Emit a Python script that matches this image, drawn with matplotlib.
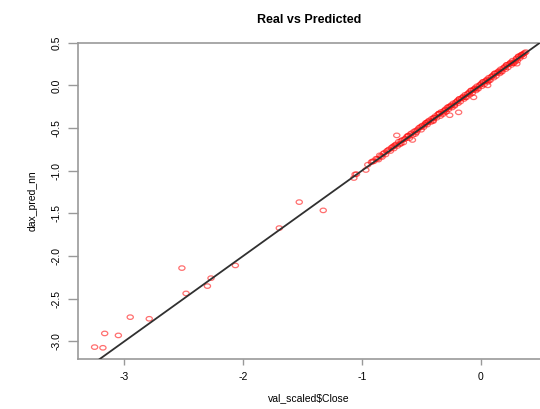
import numpy as np
import matplotlib.pyplot as plt
from matplotlib.path import Path
from matplotlib.transforms import Affine2D

plt.rcParams['font.family'] = ['Liberation Sans', 'DejaVu Sans']

# outliers at the low end
real_low = [-3.25, -3.18, -3.165, -3.05, -2.95, -2.79, -2.515, -2.48, -2.30, -2.27, -2.065,
            -1.695, -1.527, -1.325, -1.057, -1.067, -0.966]
pred_low = [-3.067, -3.075, -2.907, -2.93, -2.716, -2.735, -2.141, -2.438, -2.352, -2.259, -2.11,
            -1.672, -1.368, -1.465, -1.043, -1.086, -0.992]

# dense cluster along the diagonal
real_main = [-0.95, -0.92, -0.90, -0.88, -0.86, -0.85, -0.83, -0.81, -0.80, -0.78,
             -0.76, -0.75, -0.73, -0.72, -0.70, -0.69, -0.68, -0.66, -0.65, -0.63,
             -0.62, -0.60, -0.59, -0.57, -0.56, -0.55, -0.53, -0.52, -0.50, -0.49,
             -0.48, -0.46, -0.45, -0.44, -0.42, -0.41, -0.40, -0.38, -0.37, -0.36,
             -0.34, -0.33, -0.32, -0.30, -0.29, -0.28, -0.27, -0.25, -0.24, -0.23,
             -0.22, -0.20, -0.19, -0.18, -0.17, -0.15, -0.14, -0.13, -0.12, -0.10,
             -0.09, -0.08, -0.07, -0.05, -0.04, -0.03, -0.02, 0.00, 0.01, 0.02,
             0.03, 0.05, 0.06, 0.07, 0.08, 0.10, 0.11, 0.12, 0.13, 0.15,
             0.16, 0.17, 0.18, 0.20, 0.21, 0.22, 0.23, 0.25, 0.26, 0.27,
             0.28, 0.30, 0.31, 0.32, 0.33, 0.35, 0.36, 0.37, 0.38, 0.34,
             0.29, 0.24, 0.19, 0.14, 0.09, 0.04, -0.01, -0.06, -0.11, -0.16,
             -0.21, -0.26, -0.31, -0.35, -0.39, -0.43, -0.47, -0.51, -0.58, -0.64,
             -0.71, -0.77, -0.84,
             -0.185, -0.059, -0.26, 0.06, 0.305, -0.574, -0.706, -1.045]
pred_main = [-0.93, -0.90, -0.89, -0.86, -0.87, -0.82, -0.84, -0.79, -0.81, -0.76,
             -0.77, -0.73, -0.74, -0.70, -0.71, -0.66, -0.69, -0.64, -0.67, -0.62,
             -0.60, -0.62, -0.57, -0.58, -0.54, -0.57, -0.52, -0.50, -0.52, -0.47,
             -0.49, -0.44, -0.46, -0.42, -0.43, -0.39, -0.42, -0.36, -0.38, -0.34,
             -0.36, -0.31, -0.34, -0.29, -0.31, -0.26, -0.28, -0.24, -0.26, -0.21,
             -0.24, -0.19, -0.21, -0.16, -0.19, -0.14, -0.16, -0.11, -0.14, -0.09,
             -0.11, -0.06, -0.09, -0.04, -0.06, -0.01, -0.04, 0.01, -0.01, 0.04,
             0.01, 0.06, 0.04, 0.09, 0.06, 0.11, 0.09, 0.14, 0.11, 0.16,
             0.14, 0.19, 0.16, 0.21, 0.19, 0.24, 0.21, 0.26, 0.24, 0.29,
             0.26, 0.31, 0.29, 0.34, 0.32, 0.36, 0.34, 0.38, 0.39, 0.35,
             0.28, 0.25, 0.20, 0.15, 0.10, 0.05, 0.00, -0.05, -0.10, -0.15,
             -0.20, -0.25, -0.30, -0.33, -0.38, -0.41, -0.46, -0.49, -0.56, -0.63,
             -0.69, -0.75, -0.83,
             -0.316, -0.14, -0.35, 0.0, 0.254, -0.64, -0.586, -1.04]

# extra overlapping points that make the band look solid
real_band = [-0.91, -0.87, -0.82, -0.79, -0.74, -0.67, -0.61, -0.54, -0.46, -0.40,
             -0.35, -0.31, -0.27, -0.22, -0.18, -0.13, -0.08, -0.03, 0.02, 0.07,
             0.12, 0.17, 0.22, 0.27, 0.32, 0.36, 0.345, 0.305, 0.255, 0.205,
             0.155, 0.105, 0.055, 0.005, -0.045, -0.095, -0.145, -0.195, -0.245, -0.295,
             -0.345, -0.395, -0.445, -0.495, -0.545, -0.61, -0.67, -0.73]
pred_band = [-0.89, -0.86, -0.80, -0.77, -0.72, -0.68, -0.59, -0.55, -0.44, -0.41,
             -0.33, -0.32, -0.25, -0.23, -0.16, -0.14, -0.06, -0.04, 0.04, 0.06,
             0.14, 0.16, 0.24, 0.26, 0.34, 0.37, 0.36, 0.32, 0.27, 0.22,
             0.17, 0.12, 0.07, 0.02, -0.03, -0.08, -0.13, -0.18, -0.23, -0.28,
             -0.33, -0.38, -0.43, -0.48, -0.53, -0.59, -0.65, -0.71]

x_ticks = [-3, -2, -1, 0]
y_ticks = [0.5, 0.0, -0.5, -1.0, -1.5, -2.0, -2.5, -3.0]

# R-style open circle, squashed a little like the stretched original
circle = Path.unit_circle()
ellipse = circle.transformed(Affine2D().scale(1.0, 0.72))

fig = plt.figure(figsize=(5.4, 4.09), dpi=100)
ax = fig.add_axes([0.1444, 0.1215, 0.8556, 0.7741])

real = real_low + real_main + real_band
pred = pred_low + pred_main + pred_band
ax.scatter(real, pred, s=20, marker=ellipse, facecolors='none', edgecolors='#ff1010',
           linewidths=0.9, alpha=0.6, zorder=2)
ax.axline((0, 0), slope=1, color='#303030', linewidth=1.3, zorder=3)

ax.set_xlim(-3.39, 0.50)
ax.set_ylim(-3.21, 0.5)

ax.set_xticks(x_ticks)
ax.set_xticklabels([str(t) for t in x_ticks])
ax.set_yticks(y_ticks)
ax.set_yticklabels([f"{t:.1f}" for t in y_ticks], rotation=90, va='center')

for side in ['left', 'bottom', 'top']:
    ax.spines[side].set_color('#999999')
    ax.spines[side].set_linewidth(1.2)
ax.spines['right'].set_visible(False)

ax.tick_params(axis='y', length=7, width=1.0, color='#999999', pad=5, labelsize=7.5)
ax.tick_params(axis='x', length=4, width=1.0, color='#999999', pad=5, labelsize=7.5)

ax.set_title("Real vs Predicted", fontsize=9, fontweight='bold', pad=14)
ax.set_xlabel("val_scaled$Close", fontsize=7.5, labelpad=8)
ax.set_ylabel("dax_pred_nn", fontsize=7.5, labelpad=10)

plt.savefig("out.png", dpi=100)
